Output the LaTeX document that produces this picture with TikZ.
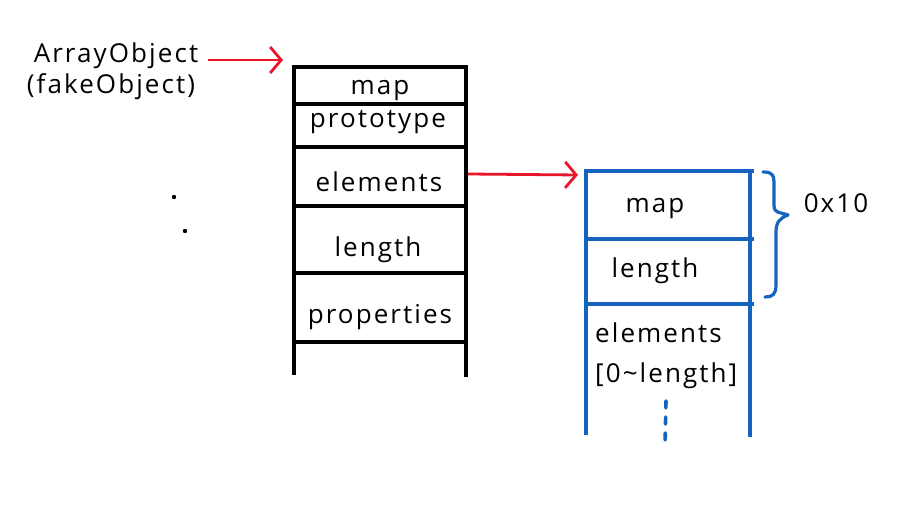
\documentclass[tikz,border=0pt]{standalone}
\usepackage{fontspec}
\setmainfont[LetterSpace=8]{Open Sans}
\usetikzlibrary{arrows.meta}
\definecolor{hblue}{RGB}{21,101,192}
\definecolor{hred}{RGB}{232,22,40}
\begin{document}
\begin{tikzpicture}[x=1pt,y=-1pt,
  blk/.style={line width=3.2pt,black},
  blu/.style={line width=3.2pt,hblue},
  red/.style={line width=2.8pt,hred,-{Straight Barb[length=11pt,width=26pt,line width=2.8pt]}},
  lbl/.style={font=\fontsize{26}{30}\selectfont,inner sep=0pt,anchor=base}]
\useasboundingbox (0,0) rectangle (908,510);
% left structure
\draw[blk] (294,67) -- (294,375) (466,67) -- (466,377);
\foreach \y in {67,104,147,206,273,342} \draw[blk] (292,\y) -- (468,\y);
\node[lbl] (lmap) at (380,95) {map};
\node[lbl] (lproto) at (378,128) {prototype};
\node[lbl] (lelem) at (379,192) {elements};
\node[lbl] (llen) at (378,257) {length};
\node[lbl] (lprop) at (380,324) {properties};
% right structure
\draw[blu] (586,171) -- (586,435) (750,171) -- (750,437);
\foreach \y in {171,239,304} \draw[blu] (584,\y) -- (754,\y);
\node[lbl] (rmap) at (655,213) {map};
\node[lbl] (rlen) at (655,278) {length};
\node[lbl,anchor=base west] (relem) at (595,343) {elements};
\node[lbl,anchor=base west] (rrange) at (595,383) {[0\textasciitilde length]};
\draw[blu,line width=3.6pt,dash pattern=on 7pt off 9pt,line cap=round] (666,401) -- (665,445);
% brace
\draw[blu,line cap=round,line join=round] (763,172) .. controls (773,172) and (774,175) .. (774,185) -- (774,205) .. controls (774,214) and (780,212) .. (788,215) .. controls (780,218) and (776,222) .. (776,232) -- (776,285) .. controls (776,295) and (772,297) .. (765,297);
\node[lbl] (size) at (836,213) {0x10};
% left labels
\node[lbl] (ao) at (116,63) {ArrayObject};
\node[lbl] (fo) at (111,94) {(fakeObject)};
\coordinate (aostart) at (208,60);
\coordinate (aotip) at (283,60);
\draw[red] (aostart) -- (aotip);
\coordinate (elstart) at (468,174);
\coordinate (eltip) at (578,175);
\draw[red] (elstart) -- (eltip);
% dots
\fill (174,197) circle (2.2pt);
\fill (185,231) circle (2.2pt);
\end{tikzpicture}
\end{document}
